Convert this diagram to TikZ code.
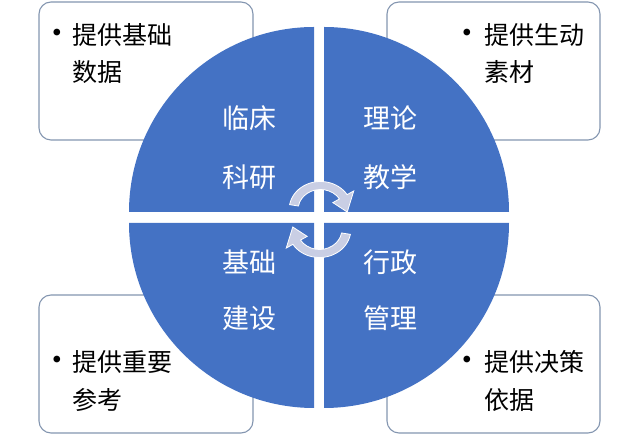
\documentclass[tikz,border=0pt]{standalone}
\usepackage{fontspec}
\newfontfamily\cjk{Noto Sans CJK SC}
\usetikzlibrary{calc}
\definecolor{qblue}{HTML}{4472C4}
\definecolor{boxline}{HTML}{8496B0}
\definecolor{arrowfill}{HTML}{C9CEE4}
\tikzset{
  quad/.style={fill=qblue, draw=none},
  infobox/.style={draw=boxline, line width=1.1pt, fill=white, rounded corners=12pt},
  qlabel/.style={text=white, font=\cjk\fontsize{27}{27}\selectfont, inner sep=0pt},
  blabel/.style={text=black, font=\cjk\fontsize{25}{25}\selectfont, inner sep=0pt, anchor=west},
  bullet/.style={text=black, font=\fontsize{30}{30}\selectfont, inner sep=0pt},
  cyc/.style={fill=arrowfill, draw=white, line width=0.8pt}
}
\begin{document}
\begin{tikzpicture}[x=1pt,y=1pt]
\useasboundingbox (0,0) rectangle (640,441);
% boxes
\draw[infobox] (39,301) rectangle (253,439);
\draw[infobox] (387,301) rectangle (600,439);
\draw[infobox] (39,8) rectangle (253,146);
\draw[infobox] (387,8) rectangle (600,146);
% quadrants
\fill[quad] (314,229) -- ++(-185,0) arc[start angle=180,end angle=90,radius=185] -- cycle;
\fill[quad] (324,229) -- ++(0,185) arc[start angle=90,end angle=0,radius=185] -- cycle;
\fill[quad] (314,218) -- ++(-185,0) arc[start angle=180,end angle=270,radius=185] -- cycle;
\fill[quad] (324,218) -- ++(185,0) arc[start angle=0,end angle=-90,radius=185] -- cycle;
% cycle arrows
\begin{scope}[shift={(320.5,231.5)}, xscale=1.12]
\path[cyc] (170:20) arc[start angle=170,end angle=32,radius=20]
  -- (32:13) -- (-6:24) -- (32:35) -- (32:28)
  arc[start angle=32,end angle=170,radius=28] -- cycle;
\end{scope}
\begin{scope}[shift={(319.5,211.5)}, xscale=1.12]
\path[cyc] (-10:20) arc[start angle=-10,end angle=-148,radius=20]
  -- (-148:13) -- (-186:24) -- (-148:35) -- (-148:28)
  arc[start angle=-148,end angle=-10,radius=28] -- cycle;
\end{scope}
% quadrant labels
\node[qlabel] (q1a) at (249.5,323) {临床};
\node[qlabel] (q1b) at (249.5,264) {科研};
\node[qlabel] (q2a) at (390,323) {理论};
\node[qlabel] (q2b) at (390,264) {教学};
\node[qlabel] (q3a) at (249.5,179) {基础};
\node[qlabel] (q3b) at (249.5,123) {建设};
\node[qlabel] (q4a) at (390,179) {行政};
\node[qlabel] (q4b) at (390,123) {管理};
% box texts
\node[bullet] (b1) at (57,406) {\textbullet};
\node[blabel] (t1a) at (72,406) {提供基础};
\node[blabel] (t1b) at (72,369) {数据};
\node[bullet] (b2) at (467,406) {\textbullet};
\node[blabel] (t2a) at (484,406) {提供生动};
\node[blabel] (t2b) at (484,369) {素材};
\node[bullet] (b3) at (57,79) {\textbullet};
\node[blabel] (t3a) at (72,79) {提供重要};
\node[blabel] (t3b) at (72,41) {参考};
\node[bullet] (b4) at (467,79) {\textbullet};
\node[blabel] (t4a) at (484,79) {提供决策};
\node[blabel] (t4b) at (484,41) {依据};
\end{tikzpicture}
\end{document}
